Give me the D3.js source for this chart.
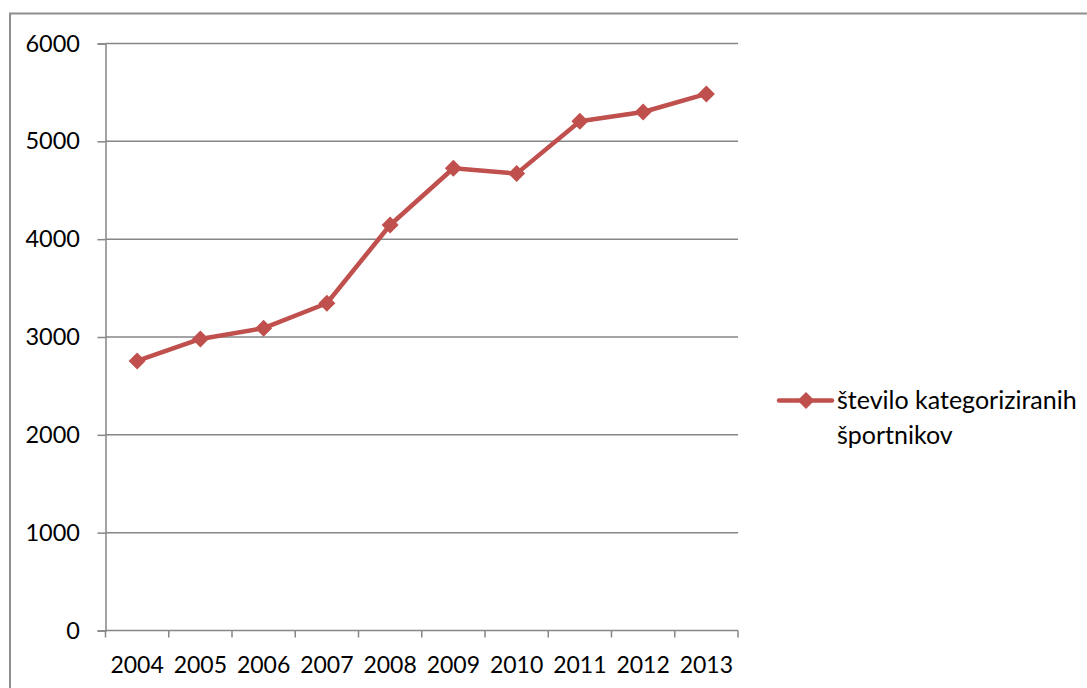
<!DOCTYPE html>
<html>
<head>
<meta charset="utf-8">
<script src="https://cdn.jsdelivr.net/npm/d3@7"></script>
<style>
  html, body { margin: 0; padding: 0; background: #fff; }
  svg { display: block; }
  text { font-family: Lato, "Open Sans", sans-serif; fill: #000; }
</style>
</head>
<body>
<svg id="chart" width="1087" height="688"></svg>
<script>
const categories = ["2004","2005","2006","2007","2008","2009","2010","2011","2012","2013"];
const values = [2755, 2980, 3090, 3345, 4145, 4725, 4670, 5205, 5300, 5485];
const yTicks = [0, 1000, 2000, 3000, 4000, 5000, 6000];
const seriesName = ["število kategoriziranih", "športnikov"];

(function () {
const svg = d3.select("#chart");
const W = 1087, H = 688;
const pLeft = 105.5, pRight = 738, pTop = 43.5, pBottom = 630.5;
const gray = "#868686";
const red = "#C0504D";

// outer frame (cropped at right/bottom)
svg.append("path")
  .attr("d", `M10,${H + 5} L10,13.5 L${W + 5},13.5`)
  .attr("fill", "none").attr("stroke", "#8e8e8e").attr("stroke-width", 2);

const x = d3.scaleBand().domain(categories).range([pLeft, pRight]);
const y = d3.scaleLinear().domain([0, 6000]).range([pBottom, pTop]);

// gridlines
svg.append("g").selectAll("line").data(yTicks.filter(d => d > 0)).join("line")
  .attr("x1", pLeft).attr("x2", pRight)
  .attr("y1", d => y(d)).attr("y2", d => y(d))
  .attr("stroke", gray).attr("stroke-width", 1.5);

// y axis
const yAxis = svg.append("g").attr("transform", `translate(${pLeft},0)`)
  .call(d3.axisLeft(y).tickValues(yTicks).tickSize(8).tickPadding(17.5).tickFormat(d3.format("d")));
yAxis.select(".domain").attr("stroke", gray).attr("stroke-width", 1.5);
yAxis.selectAll(".tick line").attr("stroke", gray).attr("stroke-width", 1.5);
yAxis.selectAll("text").attr("font-size", 23.5).attr("font-family", "Lato, sans-serif").attr("fill", "#000");

// x axis
const xAxis = svg.append("g").attr("transform", `translate(0,${pBottom})`)
  .call(d3.axisBottom(x).tickSize(0).tickPadding(26));
xAxis.select(".domain").attr("stroke", gray).attr("stroke-width", 1.5)
  .attr("d", `M${pLeft},0H${pRight}`);
xAxis.selectAll("text").attr("font-size", 23).attr("font-family", "Lato, sans-serif").attr("fill", "#000");
// boundary tick marks
const bounds = categories.map(c => x(c)).concat([x(categories[categories.length - 1]) + x.bandwidth()]);
svg.append("g").selectAll("line").data(bounds).join("line")
  .attr("x1", d => d).attr("x2", d => d)
  .attr("y1", pBottom).attr("y2", pBottom + 7)
  .attr("stroke", gray).attr("stroke-width", 1.5);

// series line
const cx = d => x(d) + x.bandwidth() / 2;
const line = d3.line().x((d, i) => cx(categories[i])).y(d => y(d));
svg.append("path").datum(values)
  .attr("d", line).attr("fill", "none")
  .attr("stroke", red).attr("stroke-width", 4.5).attr("stroke-linejoin", "round");

const diamond = (px, py, r) => `M${px},${py - r}L${px + r},${py}L${px},${py + r}L${px - r},${py}Z`;
svg.append("g").selectAll("path").data(values).join("path")
  .attr("d", (d, i) => diamond(cx(categories[i]), y(d), 8.5))
  .attr("fill", red);

// legend
const ly = 400.5;
svg.append("line").attr("x1", 779).attr("x2", 832).attr("y1", ly).attr("y2", ly)
  .attr("stroke", red).attr("stroke-width", 4.5).attr("stroke-linecap", "round");
svg.append("path").attr("d", diamond(806, ly, 8.5)).attr("fill", red);
svg.append("g").selectAll("text").data(seriesName).join("text")
  .attr("x", 837).attr("y", (d, i) => 408.5 + i * 35)
  .attr("font-size", 25)
  .text(d => d);
})();
</script>
</body>
</html>
